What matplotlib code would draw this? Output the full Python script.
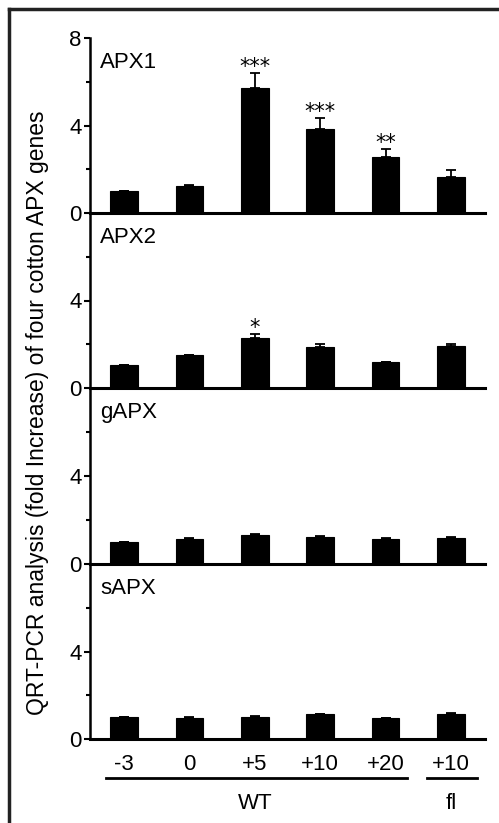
import numpy as np
import matplotlib.pyplot as plt
from matplotlib.lines import Line2D

plt.rcParams['font.family'] = ['Liberation Sans', 'DejaVu Sans']

# --- Daten ---
tick_labels = ["-3", "0", "+5", "+10", "+20", "+10"]
genes = ["APX1", "APX2", "gAPX", "sAPX"]

apx1 = [1.0, 1.22, 5.7, 3.85, 2.56, 1.66]
apx1_err = [0.0, 0.05, 0.7, 0.5, 0.38, 0.3]
apx1_sig = ["", "", "***", "***", "**", ""]

apx2 = [1.03, 1.5, 2.28, 1.88, 1.2, 1.93]
apx2_err = [0.0, 0.0, 0.18, 0.12, 0.0, 0.09]
apx2_sig = ["", "", "*", "", "", ""]

gapx = [1.02, 1.15, 1.32, 1.25, 1.15, 1.19]
gapx_err = [0.0, 0.02, 0.04, 0.03, 0.02, 0.02]
gapx_sig = ["", "", "", "", "", ""]

sapx = [1.01, 0.98, 1.02, 1.15, 0.95, 1.15]
sapx_err = [0.0, 0.04, 0.05, 0.0, 0.0, 0.05]
sapx_sig = ["", "", "", "", "", ""]

series = [(apx1, apx1_err, apx1_sig), (apx2, apx2_err, apx2_sig),
          (gapx, gapx_err, gapx_sig), (sapx, sapx_err, sapx_sig)]

W, H = 499, 823
fig = plt.figure(figsize=(W / 100, H / 100), dpi=100)

# Rahmen (oben und links)
fig.add_artist(Line2D([9 / W, 1.0], [1 - 9 / H, 1 - 9 / H], color="#222222", lw=2.5,
                      transform=fig.transFigure))
fig.add_artist(Line2D([9 / W, 9 / W], [0.0, 1 - 9 / H], color="#222222", lw=2.5,
                      transform=fig.transFigure))

left = 90 / W
right = 485 / W
tops = [38, 213, 388, 564]
bottoms = [213, 388, 564, 739]

x = np.arange(len(tick_labels))
FS = 16

axes = []
for i, (vals, errs, sig) in enumerate(series):
    b = 1 - bottoms[i] / H
    h = (bottoms[i] - tops[i]) / H
    ax = fig.add_axes([left, b, right - left, h])
    ax.patch.set_alpha(0)
    ax.bar(x, vals, width=0.42, color="black", edgecolor="black", linewidth=0.8, zorder=2)
    ax.errorbar(x, vals, yerr=[np.zeros(len(vals)), errs], fmt="none", ecolor="black",
                elinewidth=1.3, capsize=3.5, capthick=1.3, zorder=1)
    for xi, v, e, s in zip(x, vals, errs, sig):
        if s:
            ax.annotate(s, (xi, v + e), xytext=(0, 0), textcoords="offset points",
                        ha="center", va="baseline", fontsize=15, family="DejaVu Sans")
    ax.set_xlim(-0.52, 5.52)
    ax.set_ylim(0, 8)
    ax.set_yticks([0, 4, 8] if i == 0 else [0, 4])
    ax.set_yticks([2, 6], minor=True)
    ax.tick_params(axis="y", which="major", length=4, width=1.5, labelsize=FS, pad=2)
    ax.tick_params(axis="y", which="minor", length=3, width=1.5)
    ax.set_xticks([])
    for sp in ["top", "right"]:
        ax.spines[sp].set_visible(False)
    ax.spines["left"].set_linewidth(1.8)
    ax.spines["bottom"].set_linewidth(2.2)
    ax.text(0.025, 0.86, genes[i], transform=ax.transAxes, fontsize=FS,
            ha="left", va="center")
    axes.append(ax)

# X-Beschriftung unter dem letzten Panel
ax = axes[-1]
for xi, lab in zip(x, tick_labels):
    ax.text(xi, -1.15, lab, ha="center", va="center", fontsize=FS)
ax.plot([-0.275, 4.33], [-1.78, -1.78], color="black", lw=2, clip_on=False)
ax.plot([4.63, 5.4], [-1.78, -1.78], color="black", lw=2, clip_on=False)
ax.text(2.0, -2.95, "WT", ha="center", va="center", fontsize=FS)
ax.text(5.0, -2.95, "fl", ha="center", va="center", fontsize=FS)

fig.text(38 / W, 1 - 413 / H,
         "QRT-PCR analysis (fold Increase) of four cotton APX genes",
         rotation=90, ha="center", va="center", fontsize=16.5)

plt.savefig("out.png", dpi=100)
